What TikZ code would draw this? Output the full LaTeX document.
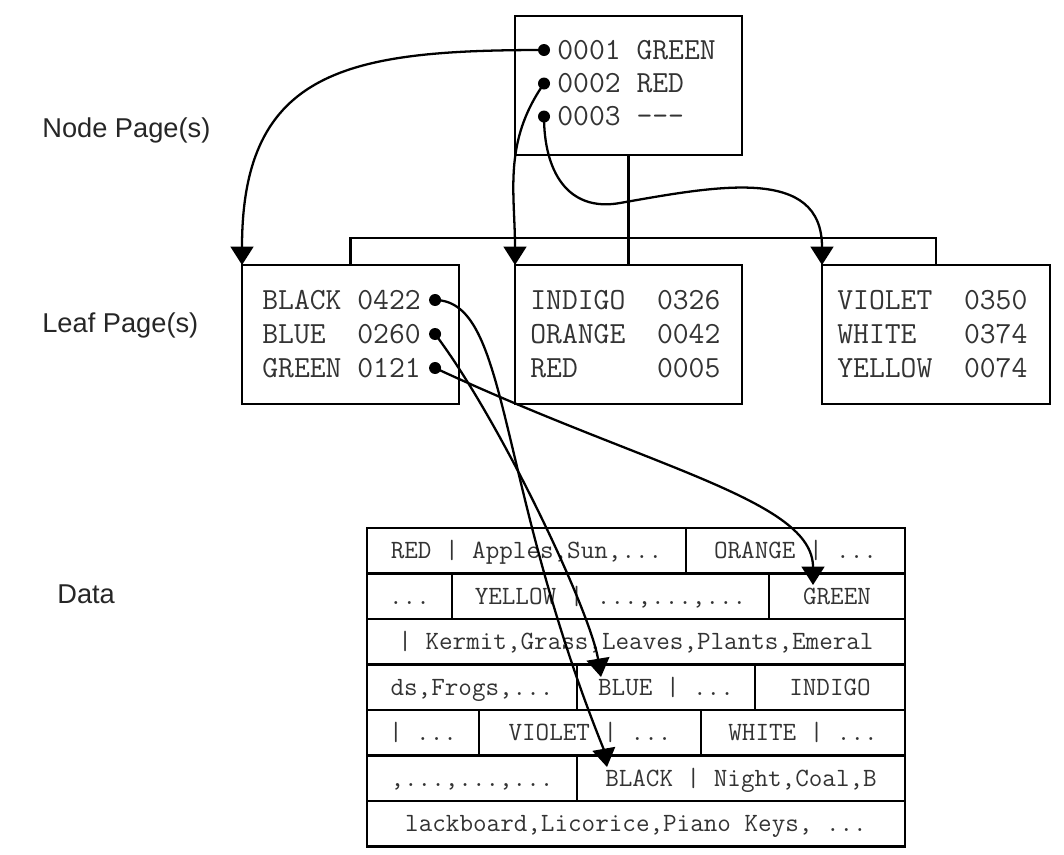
\documentclass[tikz,border=0pt]{standalone}
\usepackage{fontspec}
\newfontfamily\labelfont{Liberation Sans}
\usetikzlibrary{arrows.meta,positioning}
\tikzset{
  pagebox/.style={draw,line width=1.2pt,minimum height=2.78cm,inner sep=0pt,outer sep=0pt},
  rowtext/.style={anchor=west,inner sep=0pt,text=black!80,text height=10.7pt,text depth=0pt,font=\ttfamily\fontsize{17.5}{20}\selectfont},
  datacell/.style={draw,line width=1.4pt,minimum height=0.91cm,inner sep=0pt,outer sep=0pt,text=black!80,text height=9.2pt,text depth=0pt,font=\ttfamily\fontsize{15}{18}\selectfont},
  sidelabel/.style={anchor=base west,inner sep=0pt,text=black!85,font=\labelfont\fontsize{15.5}{18}\selectfont},
  ptr/.style={line width=1.3pt,-{Triangle[width=13pt,length=10.5pt]}},
}
\begin{document}
\begin{tikzpicture}
\useasboundingbox (0,0) rectangle (21.28,-17.08);
% page boxes and tree lines
\node[pagebox,minimum width=4.54cm] (np) at (12.57,-1.71) {};
\node[pagebox,minimum width=4.34cm] (lf) at (7.01,-6.69) {};
\node[pagebox,minimum width=4.54cm] (lm) at (12.57,-6.69) {};
\node[pagebox,minimum width=4.56cm] (lr) at (18.72,-6.69) {};
\draw[line width=1.2pt] (np.south) -- (lm.north);
\draw[line width=1.2pt] (lf.north) -- ++(0,0.54) -| (lr.north);
% labels on the left
\node[sidelabel] (lblnode) at (0.84,-2.74) {Node Page(s)};
\node[sidelabel] (lblleaf) at (0.84,-6.64) {Leaf Page(s)};
\node[sidelabel] (lbldata) at (1.14,-12.06) {Data};
% node page
\node[rowtext] (n1) at (11.14,-1.00) {0001 GREEN};
\node[rowtext] (n2) at (11.14,-1.67) {0002 RED};
\node[rowtext] (n3) at (11.14,-2.33) {0003 -{}-{}-};
\fill ([xshift=-0.26cm]n1.west) coordinate (dn1) circle (0.12cm);
\fill ([xshift=-0.26cm]n2.west) coordinate (dn2) circle (0.12cm);
\fill ([xshift=-0.26cm]n3.west) coordinate (dn3) circle (0.12cm);
% leaf pages
\node[rowtext] (bk) at (5.24,-6.00) {BLACK 0422};
\node[rowtext] (bl) at (5.24,-6.68) {BLUE\ \ 0260};
\node[rowtext] (gr) at (5.24,-7.36) {GREEN 0121};
\fill ([xshift=0.28cm]bk.east) coordinate (dbk) circle (0.12cm);
\fill ([xshift=0.28cm]bl.east) coordinate (dbl) circle (0.12cm);
\fill ([xshift=0.28cm]gr.east) coordinate (dgr) circle (0.12cm);
\node[rowtext] (ind) at (10.60,-6.00) {INDIGO\ \ 0326};
\node[rowtext] (org) at (10.60,-6.68) {ORANGE\ \ 0042};
\node[rowtext] (red) at (10.60,-7.36) {RED\ \ \ \ \ 0005};
\node[rowtext] (vio) at (16.74,-6.00) {VIOLET\ \ 0350};
\node[rowtext] (wht) at (16.74,-6.68) {WHITE\ \ \ 0374};
\node[rowtext] (yel) at (16.74,-7.36) {YELLOW\ \ 0074};
% data rows
\node[datacell,minimum width=6.38cm,anchor=north west] (c11) at (7.34,-10.56) {RED | Apples,Sun,...};
\node[datacell,minimum width=4.38cm,right=0pt of c11] (c12) {ORANGE | ...};
\node[datacell,minimum width=1.70cm,anchor=north west] (c21) at (c11.south west) {...};
\node[datacell,minimum width=6.34cm,right=0pt of c21] (c22) {YELLOW | ...,...,...};
\node[datacell,minimum width=2.72cm,right=0pt of c22] (c23) {GREEN};
\node[datacell,minimum width=10.76cm,anchor=north west] (c31) at (c21.south west) {| Kermit,Grass,Leaves,Plants,Emeral};
\node[datacell,minimum width=4.20cm,anchor=north west] (c41) at (c31.south west) {ds,Frogs,...};
\node[datacell,minimum width=3.56cm,right=0pt of c41] (c42) {BLUE | ...};
\node[datacell,minimum width=3.00cm,right=0pt of c42] (c43) {INDIGO};
\node[datacell,minimum width=2.24cm,anchor=north west] (c51) at (c41.south west) {| ...};
\node[datacell,minimum width=4.44cm,right=0pt of c51] (c52) {VIOLET | ...};
\node[datacell,minimum width=4.08cm,right=0pt of c52] (c53) {WHITE | ...};
\node[datacell,minimum width=4.20cm,anchor=north west] (c61) at (c51.south west) {,...,...,...};
\node[datacell,minimum width=6.56cm,right=0pt of c61] (c62) {BLACK | Night,Coal,B};
\node[datacell,minimum width=10.76cm,anchor=north west] (c71) at (c61.south west) {lackboard,Licorice,Piano Keys, ...};
\coordinate (tgr) at (16.26,-11.70);
\coordinate (tbl) at (12.02,-13.54);
\coordinate (tbk) at (12.14,-15.34);
% pointers
\draw[ptr] (dn1) to[out=180,in=90,looseness=1.35] (lf.north west);
\draw[ptr] (dn2) to[out=-125,in=90] (lm.north west);
\draw[ptr] (dn3) to[out=-90,in=190,looseness=1.2] (12.4,-4.06) to[out=10,in=90,looseness=1.2] (lr.north west);
\draw[ptr] (dbk) .. controls (10.2,-6.02) and (9.9,-9.6) .. (12.08,-15.0) -- (tbk);
\draw[ptr] (dbl) .. controls (10.0,-8.4) and (11.8,-12.2) .. (tbl);
\draw[ptr] (dgr) .. controls (13.0,-9.36) and (16.26,-10.0) .. (tgr);
\end{tikzpicture}
\end{document}
